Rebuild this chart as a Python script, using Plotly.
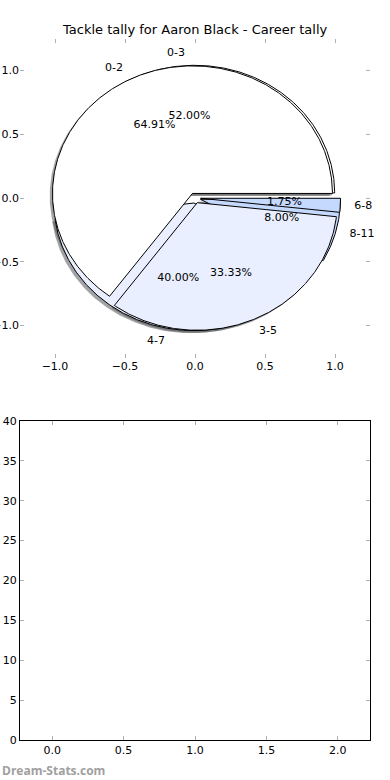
import numpy as np
import plotly.graph_objects as go

# ---- data ----
title_text = "Tackle tally for Aaron Black - Career tally"
labels_a = ["0-2", "3-5", "6-8"]
values_a = [37, 19, 1]
labels_b = ["0-3", "4-7", "8-11"]
values_b = [13, 10, 2]
pie_tick_vals = [-1.0, -0.5, 0.0, 0.5, 1.0]
bar_x_ticks = [0.0, 0.5, 1.0, 1.5, 2.0]
bar_y_ticks = [0, 5, 10, 15, 20, 25, 30, 35, 40]

# ---- style ----
slice_colors = ["#FFFFFF", "#E9EFFE", "#C5D8FE"]
explode = 0.04
shadow_off = (-0.02, -0.02)
FONT = "DejaVu Sans"
W, H = 390, 780


def rgb(h):
    h = h.lstrip("#")
    return tuple(int(h[i:i + 2], 16) for i in (0, 2, 4))


def pie_geometry(values):
    total = float(sum(values))
    out = []
    t1 = 0.0
    for v in values:
        frac = v / total
        t2 = t1 + frac * 360.0
        tm = np.radians((t1 + t2) / 2.0)
        cx, cy = explode * np.cos(tm), explode * np.sin(tm)
        n = max(int(abs(t2 - t1)) * 2, 4) + 1
        th = np.radians(np.linspace(t1, t2, n))
        xs = np.concatenate([[cx], cx + np.cos(th), [cx]])
        ys = np.concatenate([[cy], cy + np.sin(th), [cy]])
        out.append(dict(frac=frac, tm=tm, cx=cx, cy=cy, xs=xs, ys=ys))
        t1 = t2
    return out


geo_a = pie_geometry(values_a)
geo_b = pie_geometry(values_b)

fig = go.Figure()

# shadows (drawn under all wedges)
for geo in (geo_b, geo_a):
    for i, g in enumerate(geo):
        r, gg, b = rgb(slice_colors[i])
        fig.add_trace(go.Scatter(
            x=g["xs"] + shadow_off[0], y=g["ys"] + shadow_off[1],
            mode="lines", fill="toself",
            fillcolor=f"rgba({int(r*0.3)},{int(gg*0.3)},{int(b*0.3)},0.5)",
            line=dict(width=0), hoverinfo="skip", showlegend=False,
            xaxis="x", yaxis="y"))

# wedges: pie B underneath, pie A on top
for geo in (geo_b, geo_a):
    for i, g in enumerate(geo):
        fig.add_trace(go.Scatter(
            x=g["xs"], y=g["ys"], mode="lines", fill="toself",
            fillcolor=slice_colors[i], line=dict(color="black", width=1),
            hoverinfo="skip", showlegend=False, xaxis="x", yaxis="y"))

# texts
for geo, labels in ((geo_a, labels_a), (geo_b, labels_b)):
    for g, lab in zip(geo, labels):
        xt = g["cx"] + 1.1 * np.cos(g["tm"])
        yt = g["cy"] + 1.1 * np.sin(g["tm"])
        fig.add_trace(go.Scatter(
            x=[xt], y=[yt], mode="text", text=[lab],
            textposition="middle right" if xt > 0 else "middle left",
            textfont=dict(family=FONT, size=11, color="black"),
            hoverinfo="skip", showlegend=False, xaxis="x", yaxis="y",
            cliponaxis=False))
        xp = g["cx"] + 0.6 * np.cos(g["tm"])
        yp = g["cy"] + 0.6 * np.sin(g["tm"])
        fig.add_trace(go.Scatter(
            x=[xp], y=[yp], mode="text", text=["%1.2f%%" % (g["frac"] * 100)],
            textposition="middle center",
            textfont=dict(family=FONT, size=11, color="black"),
            hoverinfo="skip", showlegend=False, xaxis="x", yaxis="y"))

# empty second subplot
fig.add_trace(go.Scatter(x=[], y=[], mode="markers", showlegend=False,
                         xaxis="x2", yaxis="y2"))

tick_common = dict(ticks="inside", ticklen=4, tickwidth=1, tickcolor="#b0b0b0",
                   showgrid=False, zeroline=False, mirror="ticks", automargin=False,
                   tickfont=dict(family=FONT, size=11, color="black"))

xdom = [20 / W, 370 / W]
fig.update_layout(
    width=W, height=H, autosize=False,
    margin=dict(l=0, r=0, t=0, b=0, pad=0),
    paper_bgcolor="white", plot_bgcolor="white",
    showlegend=False,
    xaxis=dict(domain=xdom, range=[-1.25, 1.25], anchor="y", tickvals=pie_tick_vals,
               tickformat=".1f", showline=False, **tick_common),
    yaxis=dict(domain=[1 - 357.5 / H, 1 - 38.5 / H], range=[-1.25, 1.25], anchor="x",
               tickvals=pie_tick_vals, tickformat=".1f", showline=False, **tick_common),
    xaxis2=dict(domain=xdom, range=[-0.225, 2.225], anchor="y2", tickvals=bar_x_ticks,
                tickformat=".1f", showline=True, linecolor="black", linewidth=1,
                **tick_common),
    yaxis2=dict(domain=[1 - 740 / H, 1 - 421 / H], range=[0, 40], anchor="x2",
                tickvals=bar_y_ticks, showline=True, linecolor="black", linewidth=1,
                **tick_common),
    annotations=[
        dict(text=title_text, x=0.5, y=1 - 30 / H, xref="paper", yref="paper",
             xanchor="center", yanchor="middle", showarrow=False,
             font=dict(family=FONT, size=13, color="black")),
        dict(text="Dream-Stats.com", x=0, y=1 - 770 / H, xref="paper",
             yref="paper", xanchor="left", yanchor="middle", showarrow=False,
             font=dict(family="Open Sans", size=12, color="#a0a0a0",
                       weight="bold")),
    ],
)

fig.write_html("out.html", config={"displayModeBar": False},
               post_script="document.body.style.margin='0';")
